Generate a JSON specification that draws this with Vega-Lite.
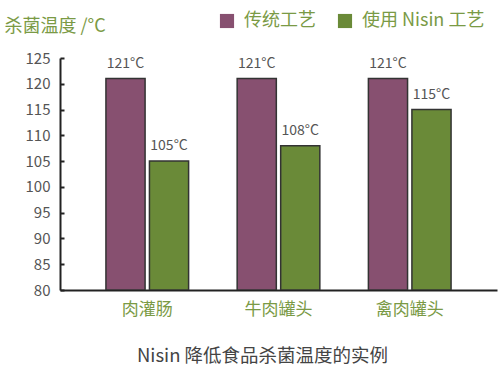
{
  "$schema": "https://vega.github.io/schema/vega-lite/v6.json",
  "width": 437,
  "height": 232,
  "autosize": {"type": "none"},
  "padding": {"left": 60, "top": 58, "right": 3, "bottom": 87},
  "background": "white",
  "title": {
    "text": "Nisin 降低食品杀菌温度的实例",
    "orient": "bottom",
    "anchor": "middle",
    "dx": -16,
    "offset": 30,
    "font": "Noto Sans CJK SC",
    "fontSize": 18.5,
    "fontWeight": "normal",
    "color": "#444444"
  },
  "data": {
    "values": [
      {"food": "肉灌肠", "method": "传统工艺", "temp": 121, "label": "121°C"},
      {"food": "肉灌肠", "method": "使用 Nisin 工艺", "temp": 105, "label": "105°C"},
      {"food": "牛肉罐头", "method": "传统工艺", "temp": 121, "label": "121°C"},
      {"food": "牛肉罐头", "method": "使用 Nisin 工艺", "temp": 108, "label": "108°C"},
      {"food": "禽肉罐头", "method": "传统工艺", "temp": 121, "label": "121°C"},
      {"food": "禽肉罐头", "method": "使用 Nisin 工艺", "temp": 115, "label": "115°C"}
    ]
  },
  "encoding": {
    "x": {
      "field": "food",
      "type": "nominal",
      "sort": ["肉灌肠", "牛肉罐头", "禽肉罐头"],
      "scale": {"paddingInner": 0.37, "paddingOuter": 0.35},
      "axis": {
        "title": null,
        "labelAngle": 0,
        "ticks": false,
        "labelPadding": 11,
        "labelFont": "Noto Sans CJK SC",
        "labelFontSize": 17,
        "labelColor": "#7a9a45",
        "domainColor": "#222222",
        "domainWidth": 2,
        "grid": false
      }
    },
    "xOffset": {
      "field": "method",
      "type": "nominal",
      "sort": ["传统工艺", "使用 Nisin 工艺"],
      "scale": {"paddingInner": 0.1}
    },
    "y": {
      "field": "temp",
      "type": "quantitative",
      "scale": {"domain": [80, 125], "zero": false, "nice": false},
      "axis": {
        "values": [80, 85, 90, 95, 100, 105, 110, 115, 120, 125],
        "grid": false,
        "tickSize": -4,
        "tickWidth": 2,
        "tickColor": "#222222",
        "domainColor": "#222222",
        "domainWidth": 2,
        "labelPadding": 14,
        "labelFont": "Noto Sans CJK SC",
        "labelFontSize": 15,
        "labelColor": "#555555",
        "title": "杀菌温度 /°C",
        "titleAngle": 0,
        "titleX": -56,
        "titleY": -27,
        "titleAlign": "left",
        "titleBaseline": "alphabetic",
        "titleFont": "Noto Sans CJK SC",
        "titleFontSize": 18,
        "titleFontWeight": "normal",
        "titleColor": "#7a9a45"
      }
    }
  },
  "layer": [
    {
      "mark": {"type": "bar", "stroke": "#333333", "strokeWidth": 1.5, "clip": true},
      "encoding": {
        "y2": {"datum": 80},
        "color": {
          "field": "method",
          "type": "nominal",
          "scale": {"domain": ["传统工艺", "使用 Nisin 工艺"], "range": ["#875070", "#6a8a38"]},
          "legend": {
            "title": null,
            "orient": "none",
            "legendX": 158,
            "legendY": -46,
            "direction": "horizontal",
            "symbolType": "square",
            "symbolSize": 200,
            "symbolStrokeWidth": 0,
            "labelFont": "Noto Sans CJK SC",
            "labelFontSize": 18,
            "labelColor": "#7a9a45",
            "labelOffset": 8,
            "columnPadding": 20
          }
        }
      }
    },
    {
      "mark": {"type": "text", "baseline": "bottom", "dy": -8, "font": "Noto Sans CJK SC", "fontSize": 14, "color": "#555555"},
      "encoding": {"text": {"field": "label"}}
    }
  ],
  "config": {"view": {"stroke": null}}
}
